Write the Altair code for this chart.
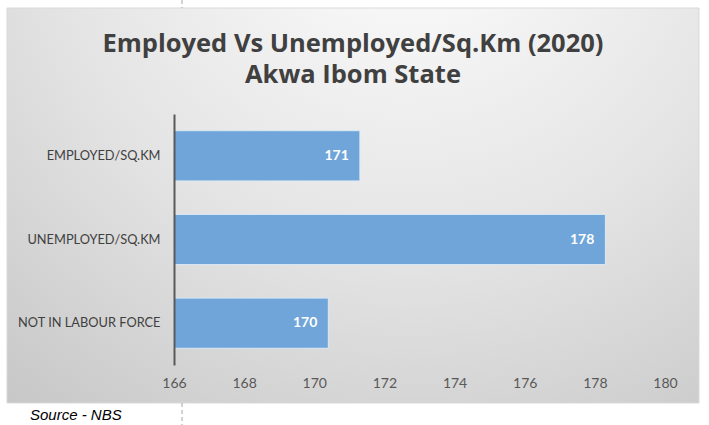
import altair as alt
import pandas as pd

# Population density per square km, 2020 (NBS)
categories = ["EMPLOYED/SQ.KM", "UNEMPLOYED/SQ.KM", "NOT IN LABOUR FORCE"]
values = [171.3, 178.3, 170.4]
x_ticks = [166, 168, 170, 172, 174, 176, 178, 180]
x_min, x_max = 166, 180
title_lines = ["Employed Vs Unemployed/Sq.Km (2020)", "Akwa Ibom State"]
source_note = "Source - NBS"

df = pd.DataFrame({"category": categories, "value": values})
single = alt.Data(values=[{}])   # one row for decorative marks

FONT = "Lato"
TITLE_FONT = "Open Sans"
W, H = 491, 251          # plot area
LEFT, TOP = 174, 114     # plot area offset inside the page

x_scale = alt.Scale(domain=[x_min, x_max], nice=False, zero=False)
y_sort = categories

# Framed chart panel with a soft radial grey gradient
panel = alt.Chart(single).mark_rect(
    clip=False,
    fill=alt.Gradient(
        gradient="radial",
        x1=0.58, y1=0.05, r1=0.0,
        x2=0.58, y2=0.05, r2=0.95,
        stops=[
            alt.GradientStop(color="#ffffff", offset=0),
            alt.GradientStop(color="#e4e4e4", offset=0.55),
            alt.GradientStop(color="#c6c6c6", offset=1),
        ],
    ),
    stroke="#d9d9d9",
    strokeWidth=1,
).encode(
    x=alt.value(7 - LEFT), x2=alt.value(699 - LEFT),
    y=alt.value(8 - TOP), y2=alt.value(403 - TOP),
)

bars = alt.Chart(df).mark_bar(
    color="#6fa5d8", stroke="#dce9f5", strokeWidth=1
).encode(
    x=alt.X("value:Q", scale=x_scale,
            axis=alt.Axis(values=x_ticks, title=None, domain=False, ticks=False,
                          grid=False, labelFlush=False, labelFont=FONT,
                          labelFontSize=14, labelColor="#595959",
                          labelPadding=11, zindex=1)),
    x2=alt.datum(x_min),
    y=alt.Y("category:N", sort=y_sort,
            scale=alt.Scale(paddingInner=0.4, paddingOuter=0.2),
            axis=alt.Axis(title=None, ticks=False, domainColor="#595959",
                          domainWidth=2, labelFont=FONT, labelFontSize=12.8,
                          labelColor="#404040", labelPadding=14, zindex=1)),
)

labels = alt.Chart(df).mark_text(
    align="right", dx=-11, color="white", fontWeight="bold",
    font=FONT, fontSize=14,
).encode(
    x="value:Q",
    y=alt.Y("category:N", sort=y_sort),
    text=alt.Text("value:Q", format=".0f"),
)

title = alt.Chart(single).mark_text(
    align="center", baseline="middle", font=TITLE_FONT, fontWeight="bold",
    fontSize=25.5, color="#404040", lineHeight=31,
).encode(
    x=alt.value(353 - LEFT), y=alt.value(44 - TOP),
    text=alt.value(title_lines),
)

source = alt.Chart(single).mark_text(
    align="left", baseline="middle", font="Liberation Sans", fontStyle="italic",
    fontWeight="normal", fontSize=15, color="#000000",
).encode(
    x=alt.value(30 - LEFT), y=alt.value(415 - TOP),
    text=alt.value(source_note),
)

guide_top = alt.Chart(single).mark_rule(
    color="#a6a6a6", strokeDash=[4, 3], strokeWidth=1
).encode(x=alt.value(182 - LEFT), y=alt.value(-TOP), y2=alt.value(8 - TOP))

guide_bottom = alt.Chart(single).mark_rule(
    color="#a6a6a6", strokeDash=[4, 3], strokeWidth=1
).encode(x=alt.value(182 - LEFT), y=alt.value(403 - TOP), y2=alt.value(425 - TOP))

chart = alt.layer(
    panel, guide_top, guide_bottom, bars, labels, title, source
).properties(
    width=W, height=H,
    padding={"left": LEFT, "top": TOP, "right": 709 - LEFT - W, "bottom": 425 - TOP - H},
    autosize=alt.AutoSizeParams(type="none"),
    background="white",
).configure_view(strokeWidth=0)

chart.save("out.html", embed_options={"renderer": "svg", "actions": False})
